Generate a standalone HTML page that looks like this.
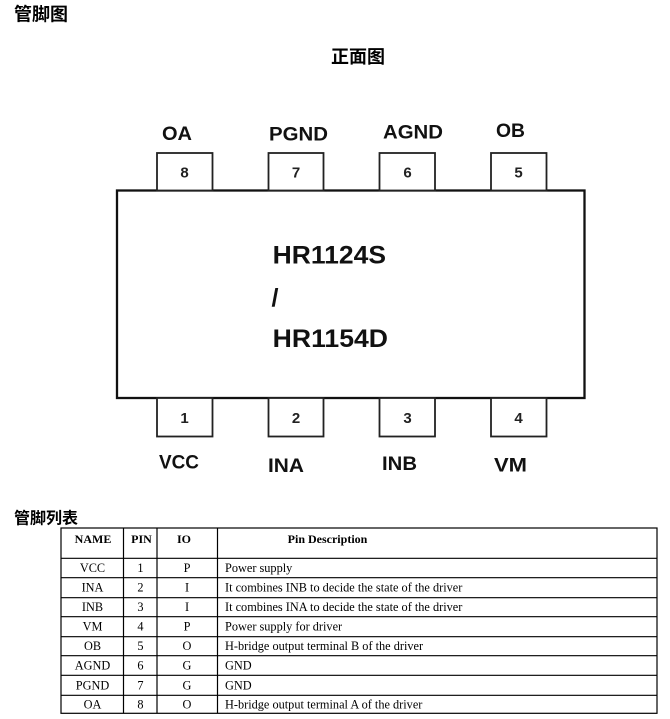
<!DOCTYPE html>
<html>
<head>
<meta charset="utf-8">
<style>
  html,body{margin:0;padding:0;background:#fff;}
  body{width:670px;height:719px;overflow:hidden;}
  svg{display:block;}
  .cjk{font-family:"Liberation Sans","Noto Sans CJK SC",sans-serif;font-weight:bold;fill:#000;}
  .lbl{font-family:"Liberation Sans","DejaVu Sans",sans-serif;font-weight:bold;font-size:19px;fill:#111;}
  .num{font-family:"Liberation Sans","DejaVu Sans",sans-serif;font-weight:bold;font-size:15px;fill:#222;}
  .chip{font-family:"Liberation Sans","DejaVu Sans",sans-serif;font-weight:bold;font-size:25px;fill:#111;}
  .th{font-family:"Liberation Serif",serif;font-weight:bold;font-size:12px;fill:#000;}
  .td{font-family:"Liberation Serif",serif;font-size:12.3px;fill:#000;}
</style>
</head>
<body>
<svg width="670" height="719" viewBox="0 0 670 719" xmlns="http://www.w3.org/2000/svg">
  <rect width="670" height="719" fill="#fff"/>

  <!-- headings -->
  <text class="cjk" x="14" y="20.5" font-size="18">管脚图</text>
  <text class="cjk" x="331" y="63" font-size="18">正面图</text>

  <!-- chip body -->
  <rect x="117" y="190.5" width="467.5" height="207.5" fill="none" stroke="#111" stroke-width="2.3"/>

  <!-- top pins -->
  <g fill="#fff" stroke="#222" stroke-width="1.8">
    <rect x="157" y="153" width="55.5" height="37.5"/>
    <rect x="268.5" y="153" width="55" height="37.5"/>
    <rect x="379.5" y="153" width="55.5" height="37.5"/>
    <rect x="491" y="153" width="55.5" height="37.5"/>
    <!-- bottom pins -->
    <rect x="157" y="398" width="55.5" height="38.5"/>
    <rect x="268.5" y="398" width="55" height="38.5"/>
    <rect x="379.5" y="398" width="55.5" height="38.5"/>
    <rect x="491" y="398" width="55.5" height="38.5"/>
  </g>

  <!-- pin numbers -->
  <g class="num" text-anchor="middle">
    <text x="184.5" y="177.5">8</text>
    <text x="296" y="177.5">7</text>
    <text x="407.5" y="177.5">6</text>
    <text x="518.5" y="177.5">5</text>
    <text x="184.5" y="423">1</text>
    <text x="296" y="423">2</text>
    <text x="407.5" y="423">3</text>
    <text x="518.5" y="423">4</text>
  </g>

  <!-- top labels -->
  <text class="lbl" x="162" y="140" textLength="30" lengthAdjust="spacingAndGlyphs">OA</text>
  <text class="lbl" x="269" y="140.5" textLength="59" lengthAdjust="spacingAndGlyphs">PGND</text>
  <text class="lbl" x="383" y="138.3" textLength="60" lengthAdjust="spacingAndGlyphs">AGND</text>
  <text class="lbl" x="496" y="137" textLength="29" lengthAdjust="spacingAndGlyphs">OB</text>

  <!-- bottom labels -->
  <text class="lbl" x="159" y="468.5" textLength="40" lengthAdjust="spacingAndGlyphs">VCC</text>
  <text class="lbl" x="268" y="472" textLength="36" lengthAdjust="spacingAndGlyphs">INA</text>
  <text class="lbl" x="382" y="470" textLength="35" lengthAdjust="spacingAndGlyphs">INB</text>
  <text class="lbl" x="494" y="471.7" textLength="33" lengthAdjust="spacingAndGlyphs">VM</text>

  <!-- chip text -->
  <text class="chip" x="272.7" y="263.3" textLength="113.3" lengthAdjust="spacingAndGlyphs">HR1124S</text>
  <text class="chip" x="271.5" y="306">/</text>
  <text class="chip" x="272.7" y="347" textLength="115.3" lengthAdjust="spacingAndGlyphs">HR1154D</text>

  <!-- table title -->
  <text class="cjk" x="14" y="523.5" font-size="16">管脚列表</text>

  <!-- table grid -->
  <g stroke="#000" stroke-width="1.2" fill="none">
    <rect x="61" y="528" width="596" height="185.3"/>
    <line x1="123.5" y1="528" x2="123.5" y2="713.3"/>
    <line x1="157" y1="528" x2="157" y2="713.3"/>
    <line x1="217.5" y1="528" x2="217.5" y2="713.3"/>
    <line x1="61" y1="558.3" x2="657" y2="558.3"/>
    <line x1="61" y1="577.7" x2="657" y2="577.7"/>
    <line x1="61" y1="597.7" x2="657" y2="597.7"/>
    <line x1="61" y1="616.7" x2="657" y2="616.7"/>
    <line x1="61" y1="636.7" x2="657" y2="636.7"/>
    <line x1="61" y1="655.7" x2="657" y2="655.7"/>
    <line x1="61" y1="675.3" x2="657" y2="675.3"/>
    <line x1="61" y1="695.3" x2="657" y2="695.3"/>
  </g>

  <!-- header -->
  <g class="th">
    <text x="93" y="543" text-anchor="middle">NAME</text>
    <text x="141.5" y="543" text-anchor="middle">PIN</text>
    <text x="184" y="543" text-anchor="middle">IO</text>
    <text x="327.5" y="543" text-anchor="middle">Pin Description</text>
  </g>

  <!-- rows -->
  <g class="td">
    <g text-anchor="middle">
      <text x="92.5" y="572">VCC</text><text x="140.5" y="572">1</text><text x="187" y="572">P</text>
      <text x="92.5" y="591.7">INA</text><text x="140.5" y="591.7">2</text><text x="187" y="591.7">I</text>
      <text x="92.5" y="611.2">INB</text><text x="140.5" y="611.2">3</text><text x="187" y="611.2">I</text>
      <text x="92.5" y="630.7">VM</text><text x="140.5" y="630.7">4</text><text x="187" y="630.7">P</text>
      <text x="92.5" y="650.2">OB</text><text x="140.5" y="650.2">5</text><text x="187" y="650.2">O</text>
      <text x="92.5" y="669.5">AGND</text><text x="140.5" y="669.5">6</text><text x="187" y="669.5">G</text>
      <text x="92.5" y="689.3">PGND</text><text x="140.5" y="689.3">7</text><text x="187" y="689.3">G</text>
      <text x="92.5" y="708.3">OA</text><text x="140.5" y="708.3">8</text><text x="187" y="708.3">O</text>
    </g>
    <text x="225" y="572">Power supply</text>
    <text x="225" y="591.7">It combines INB to decide the state of the driver</text>
    <text x="225" y="611.2">It combines INA to decide the state of the driver</text>
    <text x="225" y="630.7">Power supply for driver</text>
    <text x="225" y="650.2">H-bridge output terminal B of the driver</text>
    <text x="225" y="669.5">GND</text>
    <text x="225" y="689.3">GND</text>
    <text x="225" y="708.3">H-bridge output terminal A of the driver</text>
  </g>
</svg>
</body>
</html>
